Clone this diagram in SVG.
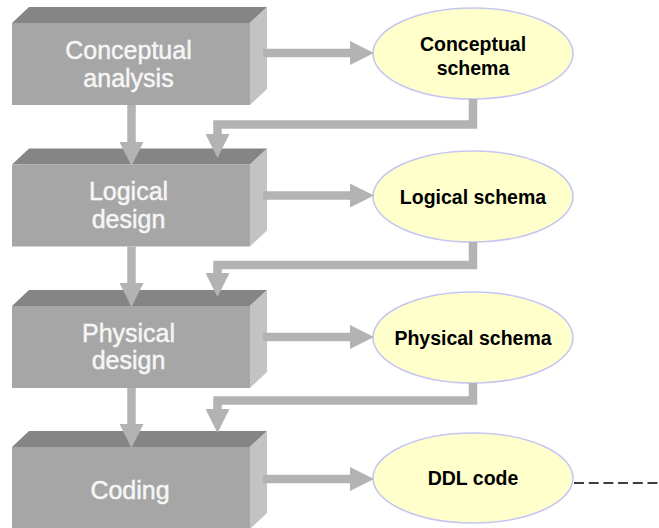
<svg xmlns="http://www.w3.org/2000/svg" xmlns:xlink="http://www.w3.org/1999/xlink" width="659" height="528" viewBox="0 0 659 528">
  <defs>
    <style>
      .front { fill: #a6a6a6; }
      .top { fill: #858585; }
      .side { fill: #c3c3c3; }
      .step { font-family: "Liberation Sans", Arial, sans-serif; font-size: 25px; fill: #f6f6f6; stroke: #f6f6f6; stroke-width: 0.45; text-anchor: middle; }
      .doc { fill: #ffffcc; stroke: #c6c6f4; stroke-width: 1.6; }
      .doc-label { font-family: "Liberation Sans", Arial, sans-serif; font-size: 19.5px; font-weight: bold; fill: #000; text-anchor: middle; }
      .flow { fill: none; stroke: #b3b3b3; stroke-width: 8.5; stroke-linejoin: miter; }
      .next { fill: none; stroke: #000; stroke-width: 1.6; stroke-dasharray: 10 4.7; }
    </style>
    <!-- 3D block, origin at the top-left corner of the front face -->
    <g id="block">
      <polygon class="top" points="12,0 29,-16 267,-16 250,0"/>
      <rect class="front" x="12" y="0" width="238" height="82"/>
      <polygon class="side" points="250,0 267,-16 267,66 250,82"/>
    </g>
    <marker id="head" markerUnits="userSpaceOnUse" markerWidth="24" markerHeight="24" viewBox="0 0 23 23" refX="0" refY="11.5" orient="auto">
      <path d="M0,0 L23,11.5 L0,23 z" fill="#b3b3b3"/>
    </marker>
  </defs>

  <rect width="659" height="528" fill="#ffffff"/>

  <!-- process steps -->
  <g id="step-conceptual">
    <use xlink:href="#block" transform="translate(0,23)"/>
    <text class="step" x="128.5" y="59">Conceptual</text>
    <text class="step" x="128.5" y="87">analysis</text>
  </g>
  <g id="step-logical">
    <use xlink:href="#block" transform="translate(0,164.5)"/>
    <text class="step" x="128.5" y="200">Logical</text>
    <text class="step" x="128.5" y="227.5">design</text>
  </g>
  <g id="step-physical">
    <use xlink:href="#block" transform="translate(0,306)"/>
    <text class="step" x="128.5" y="342">Physical</text>
    <text class="step" x="128.5" y="369">design</text>
  </g>
  <g id="step-coding">
    <use xlink:href="#block" transform="translate(0,447)"/>
    <text class="step" x="130" y="499">Coding</text>
  </g>

  <!-- produced documents -->
  <g id="doc-conceptual">
    <ellipse class="doc" cx="473" cy="53.5" rx="100" ry="45.5"/>
    <text class="doc-label" x="473" y="51">Conceptual</text>
    <text class="doc-label" x="473" y="75">schema</text>
  </g>
  <g id="doc-logical">
    <ellipse class="doc" cx="473" cy="196.5" rx="100" ry="45.5"/>
    <text class="doc-label" x="473" y="203.5">Logical schema</text>
  </g>
  <g id="doc-physical">
    <ellipse class="doc" cx="473" cy="337.5" rx="100" ry="45.5"/>
    <text class="doc-label" x="473" y="345">Physical schema</text>
  </g>
  <g id="doc-ddl">
    <ellipse class="doc" cx="473" cy="478" rx="100" ry="45"/>
    <text class="doc-label" x="473" y="484.5">DDL code</text>
  </g>

  <!-- connectors -->
  <g id="connectors">
    <!-- step to next step -->
    <path class="flow" d="M131.5,105 V142" marker-end="url(#head)"/>
    <path class="flow" d="M131.5,246.5 V283" marker-end="url(#head)"/>
    <path class="flow" d="M131.5,388 V424" marker-end="url(#head)"/>
    <!-- step to its document -->
    <path class="flow" d="M263,53 H350" marker-end="url(#head)"/>
    <path class="flow" d="M263,195.5 H350" marker-end="url(#head)"/>
    <path class="flow" d="M263,337 H350" marker-end="url(#head)"/>
    <path class="flow" d="M263,479 H350" marker-end="url(#head)"/>
    <!-- document feeding the next step -->
    <path class="flow" d="M473,99 V124.5 H217.5 V134" marker-end="url(#head)"/>
    <path class="flow" d="M473,242 V265 H217.5 V273" marker-end="url(#head)"/>
    <path class="flow" d="M473,383 V400.5 H217.5 V409" marker-end="url(#head)"/>
    <!-- continuation -->
    <path class="next" d="M574,483 H659"/>
  </g>
</svg>
